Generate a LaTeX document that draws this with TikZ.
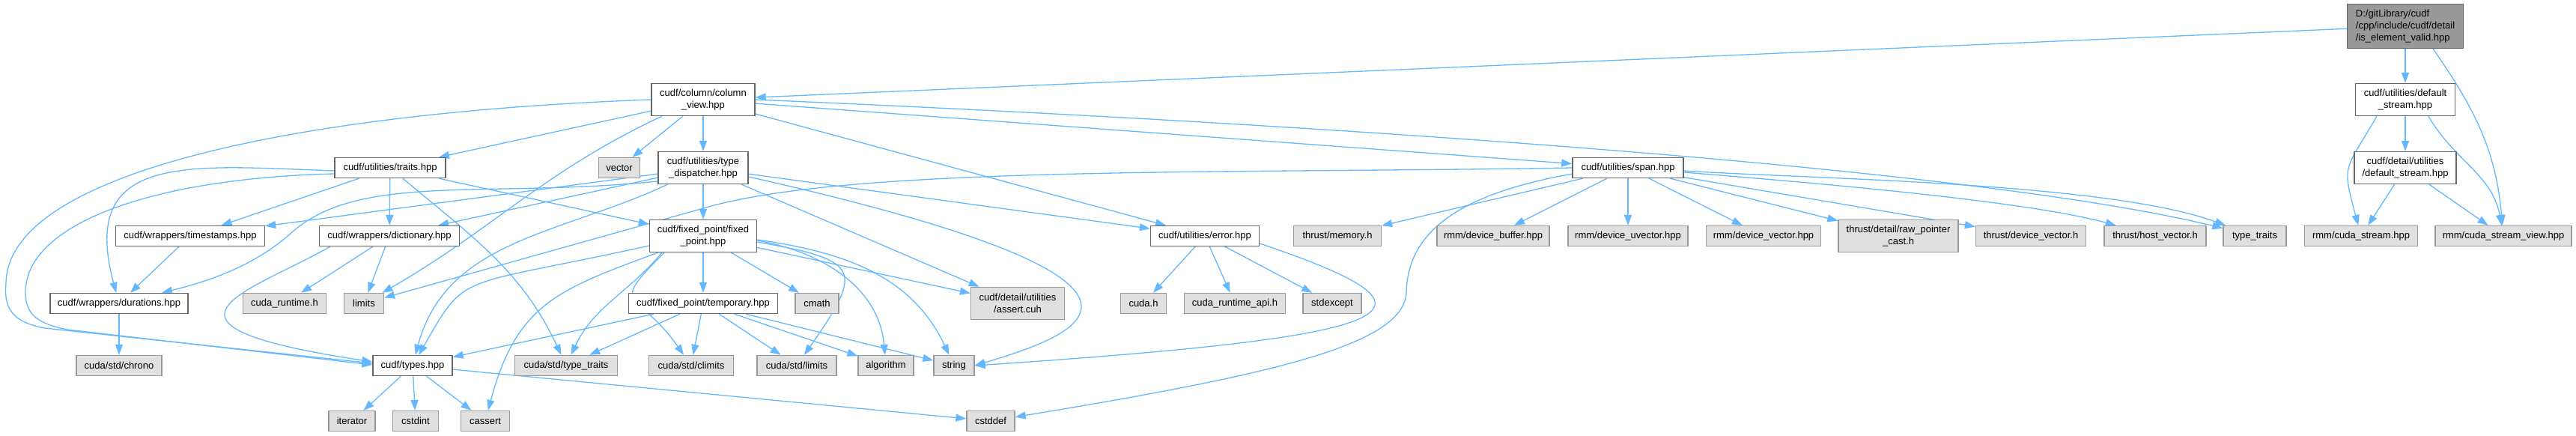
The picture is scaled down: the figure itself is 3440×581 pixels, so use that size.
\documentclass[tikz,border=0pt]{standalone}
\usepackage{fontspec}
\setmainfont{Liberation Sans}
\usetikzlibrary{arrows.meta}
\definecolor{edgeblue}{HTML}{63B8FF}
\definecolor{nodeline}{HTML}{666666}
\definecolor{sysline}{HTML}{999999}
\definecolor{sysfill}{HTML}{E0E0E0}
\definecolor{rootfill}{HTML}{999999}
\pgfdeclarelayer{bg}
\pgfsetlayers{bg,main}

\begin{document}
\begin{tikzpicture}[x=1pt,y=-1pt,
  hdr/.style={rectangle,draw=nodeline,fill=white,line width=1.3pt,inner sep=2pt,minimum height=27pt,align=center,font=\fontsize{13}{16}\selectfont},
  sys/.style={hdr,draw=sysline,fill=sysfill},
  main/.style={hdr,draw=nodeline,fill=rootfill},
  dep/.style={-{Triangle[length=14pt,width=10pt]},line width=1.3pt,draw=edgeblue}]
  \useasboundingbox (0,0) rectangle (3440,581);
  % headers of the project
  \node[main,minimum width=155pt,minimum height=59pt,align=left] (root) at (3212,35) {D:/gitLibrary/cudf\\/cpp/include/cudf/detail\\/is\_element\_valid.hpp};
  \node[hdr,minimum width=138pt,minimum height=43pt] (colview) at (939,133) {cudf/column/column\\\_view.hpp};
  \node[hdr,minimum width=133pt,minimum height=43pt] (dstream) at (3212,133) {cudf/utilities/default\\\_stream.hpp};
  \node[hdr,minimum width=148pt] (traits) at (521,224) {cudf/utilities/traits.hpp};
  \node[hdr,minimum width=120pt,minimum height=43pt] (tdisp) at (939,224) {cudf/utilities/type\\\_dispatcher.hpp};
  \node[hdr,minimum width=148pt] (span) at (2174,224) {cudf/utilities/span.hpp};
  \node[hdr,minimum width=136pt,minimum height=43pt] (ddstream) at (3212,224) {cudf/detail/utilities\\/default\_stream.hpp};
  \node[hdr,minimum width=199pt] (tstamps) at (254,315) {cudf/wrappers/timestamps.hpp};
  \node[hdr,minimum width=187pt] (dict) at (520,315) {cudf/wrappers/dictionary.hpp};
  \node[hdr,minimum width=143pt,minimum height=43pt] (fixed) at (939,315) {cudf/fixed\_point/fixed\\\_point.hpp};
  \node[hdr,minimum width=145pt] (error) at (1609,315) {cudf/utilities/error.hpp};
  \node[hdr,minimum width=184pt] (durat) at (159,405) {cudf/wrappers/durations.hpp};
  \node[hdr,minimum width=199pt] (temp) at (939,405) {cudf/fixed\_point/temporary.hpp};
  \node[hdr,minimum width=106pt] (types) at (551,488) {cudf/types.hpp};
  % system and library headers
  \node[sys,minimum width=55pt] (vector) at (827,224) {vector};
  \node[sys,minimum width=117pt] (tmem) at (1786,315) {thrust/memory.h};
  \node[sys,minimum width=150pt] (dbuf) at (1994,315) {rmm/device\_buffer.hpp};
  \node[sys,minimum width=160pt] (duvec) at (2174,315) {rmm/device\_uvector.hpp};
  \node[sys,minimum width=153pt] (dvec) at (2355,315) {rmm/device\_vector.hpp};
  \node[sys,minimum width=160pt,minimum height=43pt] (rawptr) at (2535,315) {thrust/detail/raw\_pointer\\\_cast.h};
  \node[sys,minimum width=147pt] (tdvec) at (2712,315) {thrust/device\_vector.h};
  \node[sys,minimum width=136pt] (thvec) at (2878,315) {thrust/host\_vector.h};
  \node[sys,minimum width=84pt] (ttraits) at (3011,315) {type\_traits};
  \node[sys,minimum width=151pt] (cstream) at (3153,315) {rmm/cuda\_stream.hpp};
  \node[sys,minimum width=182pt] (csview) at (3343,315) {rmm/cuda\_stream\_view.hpp};
  \node[sys,minimum width=111pt] (cudart) at (380,405) {cuda\_runtime.h};
  \node[sys,minimum width=53pt] (limits) at (486,405) {limits};
  \node[sys,minimum width=58pt] (cmath) at (1091,405) {cmath};
  \node[sys,minimum width=125pt,minimum height=43pt] (assert) at (1359,405) {cudf/detail/utilities\\/assert.cuh};
  \node[sys,minimum width=61pt] (cudah) at (1527,405) {cuda.h};
  \node[sys,minimum width=135pt] (cudaapi) at (1649,405) {cuda\_runtime\_api.h};
  \node[sys,minimum width=78pt] (stdexc) at (1779,405) {stdexcept};
  \node[sys,minimum width=114pt] (chrono) at (159,488) {cuda/std/chrono};
  \node[sys,minimum width=137pt] (cstt) at (756,488) {cuda/std/type\_traits};
  \node[sys,minimum width=113pt] (climits) at (923,488) {cuda/std/climits};
  \node[sys,minimum width=106pt] (cslimits) at (1064,488) {cuda/std/limits};
  \node[sys,minimum width=74pt] (algo) at (1183,488) {algorithm};
  \node[sys,minimum width=54pt] (string) at (1274,488) {string};
  \node[sys,minimum width=62pt] (iter) at (470,562) {iterator};
  \node[sys,minimum width=61pt] (cstdint) at (555,562) {cstdint};
  \node[sys,minimum width=65pt] (cassert) at (648,562) {cassert};
  \node[sys,minimum width=64pt] (cstddef) at (1323,562) {cstddef};
  \begin{pgfonlayer}{bg}
  % is_element_valid.hpp and the stream headers
  \draw[dep] (root)--(colview); \draw[dep] (root)--(dstream);
  \draw[dep] ([xshift=37pt]root.south) to[out=-55,in=95] (csview);
  \draw[dep] (dstream)--(ddstream);
  \draw[dep] ([xshift=-38pt]dstream.south) to[out=-120,in=105,looseness=1.5] (cstream);
  \draw[dep] ([xshift=31pt]dstream.south) to[out=-60,in=100] (csview);
  \draw[dep] (ddstream)--(cstream); \draw[dep] (ddstream)--(csview);
  % column_view.hpp
  \draw[dep] (colview)--(traits); \draw[dep] (colview)--(tdisp); \draw[dep] (colview)--(vector);
  \draw[dep] (colview)--(error); \draw[dep] (colview)--(span);
  \draw[dep] ([xshift=-55pt]colview.south) to[out=-155,in=30] (limits);
  \draw[dep] (colview.west) .. controls (400,150) and (10,230) .. (8,378) .. controls (5,410) and (15,430) .. (60,438) -- ([yshift=3pt]types.west);
  \draw[dep] (colview.east) .. controls (1600,158) and (2600,215) .. (ttraits);
  % traits.hpp
  \draw[dep] (traits)--(tstamps); \draw[dep] (traits)--(dict); \draw[dep] (traits)--(fixed);
  \draw[dep] (traits) to[out=-40,in=115] (cstt);
  \draw[dep] ([yshift=-4pt]traits.west) to[out=178,in=105,looseness=1.5] (durat);
  \draw[dep] ([yshift=-8pt]traits.west) .. controls (200,238) and (32,300) .. (34,392) .. controls (35,420) and (50,432) .. (90,440) -- ([yshift=1pt]types.west);
  % type_dispatcher.hpp
  \draw[dep] (tdisp)--(fixed); \draw[dep] (tdisp)--(tstamps); \draw[dep] (tdisp)--(dict);
  \draw[dep] (tdisp)--(error); \draw[dep] (tdisp)--(assert);
  \draw[dep] ([yshift=-18pt]tdisp.west) .. controls (650,265) and (480,230) .. (390,310) .. controls (340,355) and (280,375) .. (durat);
  \draw[dep] (tdisp) to[out=-155,in=75] (types);
  \draw[dep] ([yshift=-12pt]tdisp.east) .. controls (1640,380) and (1435,448) .. (string.east);
  % span.hpp
  \draw[dep] (span.west) .. controls (1650,232) and (1150,221) .. (950,275) -- (limits);
  \draw[dep] ([yshift=6pt]span.south west) .. controls (1930,262) and (1880,320) .. (1878,390) .. controls (1876,460) and (1700,500) .. (cstddef);
  \draw[dep] (span)--(tmem); \draw[dep] (span)--(dbuf); \draw[dep] (span)--(duvec);
  \draw[dep] (span)--(dvec); \draw[dep] (span)--(rawptr); \draw[dep] (span)--(tdvec);
  \draw[dep] ([yshift=-6pt]span.east) .. controls (2383,241) and (2697,266) .. (thvec);
  \draw[dep] ([yshift=-4pt]span.east) .. controls (2419,239) and (2813,243) .. (ttraits);
  % wrappers
  \draw[dep] (dict)--(cudart); \draw[dep] (dict)--(limits);
  \draw[dep] ([xshift=15pt]dict.south west) .. controls (334,390) and (166,433) .. ([yshift=5pt]types.west);
  \draw[dep] (tstamps)--(durat); \draw[dep] (durat)--(chrono);
  % fixed_point.hpp
  \draw[dep] (fixed)--(temp); \draw[dep] (fixed)--(cmath); \draw[dep] (fixed)--(assert);
  \draw[dep] ([yshift=-13pt]fixed.west) .. controls (607,385) and (624,361) .. (types);
  \draw[dep] ([xshift=-55pt]fixed.south) to[out=-130,in=65] (cstt);
  \draw[dep] ([xshift=-52pt]fixed.south) to[out=-135,in=125,looseness=2] (climits);
  \draw[dep] ([xshift=-60pt]fixed.south) to[out=-160,in=75,looseness=1.2] (cassert);
  \draw[dep] ([yshift=-8pt]fixed.east) to[out=-10,in=55,looseness=2.2] (cslimits);
  \draw[dep] ([yshift=-6pt]fixed.east) to[out=-10,in=95] (algo);
  \draw[dep] ([yshift=-5pt]fixed.east) to[out=-8,in=115] (string);
  % temporary.hpp
  \draw[dep] (temp)--(types); \draw[dep] (temp)--(cstt); \draw[dep] (temp)--(climits);
  \draw[dep] (temp)--(cslimits); \draw[dep] (temp)--(algo); \draw[dep] (temp)--(string);
  % types.hpp and error.hpp
  \draw[dep] (types)--(iter); \draw[dep] (types)--(cstdint); \draw[dep] (types)--(cassert); \draw[dep] (types)--(cstddef);
  \draw[dep] (error)--(cudah); \draw[dep] (error)--(cudaapi); \draw[dep] (error)--(stdexc);
  \draw[dep] ([yshift=-10pt]error.east) .. controls (1946,414) and (1900,448) .. (string.east);
  \end{pgfonlayer}
\end{tikzpicture}
\end{document}
